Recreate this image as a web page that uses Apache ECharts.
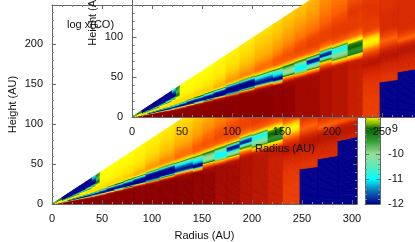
<!DOCTYPE html>
<html><head><meta charset="utf-8">
<style>html,body{margin:0;padding:0;background:#fff}#c{width:415px;height:242px}</style>
<script src="https://cdn.jsdelivr.net/npm/echarts@6/dist/echarts.min.js"></script>
</head><body><div id="c"></div>
<script>
const radiusTicks=[0,50,100,150,200,250,300];
const radiusTicksInset=[0,50,100,150,200,250];
const heightTicksMain=[0,50,100,150,200];
const heightTicksInset=[0,50,100];
const heightMinorInset=[10,20,30,40,60,70,80,90,110,120,130,140];
const colorTicks=[-12,-11,-10,-9,-8,-7,-6,-5,-4];
const radiusEdges=[0,5,10,16,22,28,34,40,44,48,55,63,72,82,94,108,123,141,151,163,175,188,200,216,231,248,266,286,305];
const slopeLevels=[0,.10,.17,.20,.23,.26,.28,.30,.32,.34,.36,.38,.40,.42,.44,.46,.50,.55,.60,.70,.82];
const logAbundance=[
[-4,-4,-4,-4.2,-5.5,-7,-8,-8.3,-8.4,-8.4,-8.4,-8.4,-8.4,-8.4,-8.4,-8.4,-8.5,-8.8,-9.2,-9.6,-9.8],
[-4,-4,-4,-4.2,-5.5,-7.5,-8,-8.2,-8.3,-8.3,-8.3,-8.3,-8.3,-8.3,-8.3,-8.3,-8.4,-8.5,-8.7,-9.1,-9.5],
[-4,-4,-4,-4.3,-6,-10,-11.5,-10,-8.6,-8.2,-8.1,-8.1,-8.1,-8.2,-8.3,-8.5,-9.5,-12,-12,-12,-12],
[-4,-4,-4,-4.2,-5,-11,-12,-12,-11,-9.5,-8.5,-8.1,-8,-8,-8.1,-8.3,-10.5,-12,-12,-12,-12],
[-4,-4,-4,-4.2,-5,-11,-12,-12,-11.2,-9.6,-8.6,-8.1,-8,-8,-8.1,-8.3,-9.5,-12,-12,-12,-12],
[-4,-4,-4,-4.1,-4.8,-11,-12,-12,-11.4,-9.8,-8.7,-8.1,-8,-8,-8.1,-8.2,-8.8,-11.5,-12,-12,-12],
[-4,-4,-4,-4.1,-4.6,-11,-12,-12,-11.6,-10,-8.8,-8.2,-8,-8,-8,-8.1,-8.4,-10.5,-12,-12,-12],
[-4,-4,-4,-4.1,-4.5,-10,-12,-12,-11.8,-10.3,-9,-8.3,-8,-8,-8,-8.1,-8.3,-9,-12,-12,-11],
[-4,-4,-4,-4,-4.5,-9,-12,-12,-11.9,-10.6,-9.2,-8.3,-8,-7.9,-7.9,-8,-8.2,-8.5,-9,-9.7,-9.3],
[-4,-4,-4,-4,-4.4,-8,-12,-12,-12,-11.3,-10.3,-9,-8.2,-8,-7.9,-8,-8.2,-8.3,-8.4,-8.5,-8.5],
[-4,-4,-4,-4,-4.1,-5.5,-11.5,-12,-12,-12,-11,-9.4,-8.3,-8,-7.8,-7.9,-8.1,-8.3,-8.4,-8.5,-8.5],
[-4,-4,-4,-4,-4,-4.8,-10,-12,-12,-12,-11.2,-9.7,-8.4,-7.9,-7.7,-7.8,-8,-8.2,-8.3,-8.4,-8.5],
[-4,-4,-4,-4,-4,-4.5,-8,-12,-12,-12,-11.6,-10.5,-9.2,-8.2,-7.6,-7.7,-7.9,-8.1,-8.2,-8.4,-8.5],
[-4,-4,-4,-4,-4,-4.3,-6,-12,-12,-12,-12,-11.2,-9.6,-8.1,-7.3,-7.3,-7.6,-7.9,-8.1,-8.3,-8.4],
[-4,-4,-4,-4,-4,-4.2,-5.5,-11,-12,-12,-12,-12,-11.2,-9,-7.6,-6.8,-7.1,-7.5,-7.8,-8.1,-8.3],
[-4,-4,-4,-4,-4,-4.1,-4.8,-8.5,-12,-12,-12,-12,-11.3,-9.2,-7.6,-6.6,-6.7,-7.2,-7.5,-7.9,-8.2],
[-4,-4,-4,-4,-4,-4.1,-4.4,-6,-11.5,-12,-11.7,-11.2,-10.6,-9,-7.3,-6.2,-6.2,-6.8,-7.2,-7.6,-8],
[-4.1,-4.1,-4.1,-4.1,-4.1,-4.1,-4.2,-8,-12,-12,-11.2,-11,-10.3,-8.6,-6.9,-5.9,-5.8,-6.4,-6.9,-7.4,-7.9],
[-4.1,-4.1,-4.1,-4.1,-4.1,-4.2,-4.3,-5,-6.5,-9.5,-10.2,-10,-9.8,-9,-7,-5.9,-5.7,-6,-6.6,-7.2,-7.7],
[-4.3,-4.3,-4.3,-4.3,-4.3,-4.3,-4.3,-4.8,-7,-10.5,-11,-11,-10.3,-9.2,-7.2,-5.9,-5.5,-5.7,-6.3,-7,-7.6],
[-4.3,-4.3,-4.3,-4.3,-4.3,-4.3,-4.4,-4.6,-6.5,-9.8,-10.1,-11.8,-12,-9.3,-7,-5.8,-5.4,-5.5,-6.1,-6.8,-7.4],
[-4.5,-4.5,-4.5,-4.5,-4.5,-4.5,-4.5,-4.5,-4.9,-6,-8.5,-10,-12,-11.5,-8.3,-6.3,-5.4,-5.4,-5.8,-6.4,-7],
[-4.6,-4.6,-4.6,-4.6,-4.6,-4.6,-4.6,-4.6,-4.8,-7.5,-9.8,-10,-10.9,-10.8,-8.2,-5.9,-5.3,-5.3,-5.6,-6.2,-6.9],
[-4.8,-4.8,-4.8,-4.8,-4.8,-4.8,-4.7,-4.7,-4.9,-7.5,-9.3,-9.4,-9,-8.9,-7.8,-6,-5.3,-5.3,-5.2,-5.8,-6.6],
[-5.3,-5.3,-5.2,-5.1,-5,-4.8,-4.6,-4.7,-5,-5.5,-6.5,-8,-8.4,-7.8,-6,-5.4,-5.3,-5.2,-5.2,-5.3,-5.6],
[-5.2,-5.2,-5.2,-5.2,-5,-4.9,-4.7,-4.6,-4.7,-5,-5.5,-6,-5.5,-5.2,-5,-5,-5,-5.1,-5.1,-5.1,-5],
[-5.2,-5.2,-5.2,-5.2,-5,-4.9,-4.8,-4.6,-4.6,-5,-6,-5.4,-5.1,-5,-5,-5,-5,-5,-5,-5,-5],
[-5.2,-5.2,-5.2,-5.2,-5.1,-5,-4.9,-4.7,-4.6,-4.8,-5.8,-5.3,-5.1,-5,-5,-5,-5,-5,-5,-5,-5]
];
const depletedBelow={25:.176,26:.212,27:.276};
const paletteValues=[-12,-11.5,-11,-10.5,-10,-9.5,-9,-8.8,-8.5,-8,-7.5,-7,-6,-5.3,-5,-4.5,-4];
const paletteColors=['#00008b','#0a6cb4','#00ffff','#5fe8b8','#96e096','#35a035','#006400','#80b000','#ffff00','#ffe000','#ffc000','#ffa000','#ff6400','#e83c00','#d82800','#b01000','#8b0000'];

function hex(c){return [1,3,5].map(i=>parseInt(c.substr(i,2),16));}
function colorOf(v){
  if(v<=paletteValues[0])return paletteColors[0];
  for(let i=1;i<paletteValues.length;i++){
    if(v<=paletteValues[i]){
      const t=(v-paletteValues[i-1])/(paletteValues[i]-paletteValues[i-1]);
      const a=hex(paletteColors[i-1]),b=hex(paletteColors[i]);
      return 'rgb('+a.map((x,k)=>Math.round(x+(b[k]-x)*t)).join(',')+')';
    }
  }
  return paletteColors[paletteColors.length-1];
}
const cells=[];
logAbundance.forEach((row,c)=>{
  const r0=radiusEdges[c],r1=radiusEdges[c+1],f=depletedBelow[c]||0;
  if(f)cells.push([r0,r1,0,f,-12,-12]);
  for(let l=0;l<row.length-1;l++){
    let q0=slopeLevels[l],q1=slopeLevels[l+1],v0=row[l],v1=row[l+1];
    if(q1<=f)continue;
    if(q0<f){v0=v0+(v1-v0)*(f-q0)/(q1-q0);q0=f;}
    cells.push([r0,r1,q0,q1,v0,v1]);
  }
});
function renderCell(params,api){
  const r0=api.value(0),r1=api.value(1),q0=api.value(2),q1=api.value(3),v0=api.value(4),v1=api.value(5);
  const px=Math.abs(api.coord([r1,0])[1]-api.coord([r1,(q1-q0)*r1])[1]);
  const n=Math.max(1,Math.min(40,Math.ceil(px/1.2)));
  const children=[];
  for(let i=0;i<n;i++){
    const a=q0+(q1-q0)*i/n,b=q0+(q1-q0)*(i+1)/n;
    const col=colorOf(v0+(v1-v0)*(i+.5)/n);
    children.push({type:'polygon',shape:{points:[api.coord([r0,a*r0]),api.coord([r1,a*r1]),api.coord([r1,b*r1]),api.coord([r0,b*r0])]},
      style:{fill:col,stroke:col,lineWidth:.8},silent:true});
  }
  return {type:'group',children};
}
function renderBar(params,api){
  const a=api.coord([0,-12]),b=api.coord([1,-4]);
  const span=paletteValues[paletteValues.length-1]-paletteValues[0];
  return {type:'rect',shape:{x:a[0],y:b[1],width:b[0]-a[0],height:a[1]-b[1]},
    style:{fill:new echarts.graphic.LinearGradient(0,1,0,0,paletteValues.map((v,i)=>({offset:(v-paletteValues[0])/span,color:paletteColors[i]})))},silent:true};
}
const INK='#111',AX='#666',AXM='#888';
function renderInsetRuler(params,api){
  const base=api.coord([0,0]),top=api.coord([0,146.25]);
  const x=Math.round(base[0])+.5;
  const kids=[{type:'line',shape:{x1:x,y1:base[1],x2:x,y2:top[1]},style:{stroke:AX,lineWidth:1},silent:true}];
  heightTicksInset.forEach(v=>{const y=Math.round(api.coord([0,v])[1])+.5;
    kids.push({type:'line',shape:{x1:x,y1:y,x2:x+4,y2:y},style:{stroke:AX,lineWidth:1},silent:true});});
  heightMinorInset.forEach(v=>{const y=Math.round(api.coord([0,v])[1])+.5;
    kids.push({type:'line',shape:{x1:x,y1:y,x2:x+2,y2:y},style:{stroke:AXM,lineWidth:1},silent:true});});
  return {type:'group',children:kids};
}
const font={fontFamily:'Liberation Sans',fontSize:11,color:INK};
function axisBase(grid,z,ticks,min,max,opts){
  return Object.assign({gridIndex:grid,type:'value',min:min,max:max,interval:50,z:z,
    axisLine:{show:true,onZero:false,lineStyle:{color:AX,width:1}},
    axisTick:{show:true,inside:true,length:4,lineStyle:{color:AX},customValues:ticks},
    minorTick:{show:true,splitNumber:5,length:2,lineStyle:{color:AXM}},
    splitLine:{show:false},minorSplitLine:{show:false}},opts);
}
const noLabel={axisLabel:{show:false}};
const axisNameOpts={nameLocation:'middle',nameMoveOverlap:false,nameTextStyle:font};
const option={
  animation:false,backgroundColor:'#fff',
  grid:[
    {left:52,top:5,width:305,height:199,outerBoundsMode:'none'},
    {left:132,top:0,width:283,height:117,outerBoundsMode:'none'},
    {left:365,top:4,width:15,height:200,outerBoundsMode:'none'}
  ],
  xAxis:[
    axisBase(0,3,radiusTicks,0,305,Object.assign({position:'bottom',name:'Radius (AU)',nameGap:26,
      axisLabel:Object.assign({margin:9,customValues:radiusTicks},font)},axisNameOpts)),
    axisBase(0,3,radiusTicks,0,305,Object.assign({position:'top'},noLabel)),
    axisBase(1,7,radiusTicksInset,0,283,{position:'bottom',
      axisLabel:Object.assign({margin:9,customValues:radiusTicksInset},font)}),
    {gridIndex:2,type:'value',min:0,max:1,z:5,axisLine:{show:true,lineStyle:{color:AX}},axisTick:{show:false},axisLabel:{show:false},splitLine:{show:false}},
    {gridIndex:2,type:'value',min:0,max:1,z:5,position:'top',axisLine:{show:true,lineStyle:{color:AX}},axisTick:{show:false},axisLabel:{show:false},splitLine:{show:false}}
  ],
  yAxis:[
    axisBase(0,3,heightTicksMain,0,248.75,Object.assign({position:'left',name:'Height (AU)',nameGap:34,
      axisLabel:Object.assign({margin:9,customValues:heightTicksMain},font)},axisNameOpts)),
    axisBase(0,3,heightTicksMain,0,248.75,Object.assign({position:'right'},noLabel)),
    {gridIndex:1,type:'value',min:0,max:146.25,interval:50,z:7,position:'left',
      axisLine:{show:false,onZero:false},axisTick:{show:false},minorTick:{show:false},splitLine:{show:false},
      axisLabel:Object.assign({margin:9,customValues:heightTicksInset},font)},
    {gridIndex:2,type:'value',min:-12,max:-4,interval:1,z:5,position:'left',
      axisLine:{show:true,onZero:false,lineStyle:{color:AX}},axisTick:{show:true,inside:true,length:4,lineStyle:{color:AX}},
      minorTick:{show:true,splitNumber:5,length:2,lineStyle:{color:AXM}},axisLabel:{show:false},splitLine:{show:false}},
    {gridIndex:2,type:'value',min:-12,max:-4,interval:1,z:5,position:'right',
      axisLine:{show:true,onZero:false,lineStyle:{color:AX}},axisTick:{show:true,inside:true,length:4,lineStyle:{color:AX}},
      minorTick:{show:true,splitNumber:5,length:2,lineStyle:{color:AXM}},
      axisLabel:Object.assign({margin:8,customValues:colorTicks,align:'left'},font),splitLine:{show:false}}
  ],
  series:[
    {type:'custom',xAxisIndex:0,yAxisIndex:0,z:1,clip:true,data:cells,renderItem:renderCell,silent:true},
    {type:'custom',xAxisIndex:3,yAxisIndex:3,z:4,data:[[0,1]],renderItem:renderBar,silent:true},
    {type:'custom',xAxisIndex:2,yAxisIndex:2,z:6,clip:false,data:cells,renderItem:renderCell,silent:true},
    {type:'custom',xAxisIndex:2,yAxisIndex:2,z:8,clip:false,data:[[0,0]],renderItem:renderInsetRuler,silent:true}
  ],
  graphic:[
    {type:'text',left:67,top:19,z:20,style:{text:'log x(CO)',fill:INK,font:'11px "Liberation Sans"'}},
    {type:'text',x:285,y:149,z:20,style:{text:'Radius (AU)',align:'center',verticalAlign:'middle',fill:INK,font:'11px "Liberation Sans"'}},
    {type:'text',x:93,y:17,rotation:Math.PI/2,z:20,style:{text:'Height (AU)',align:'center',verticalAlign:'middle',fill:INK,font:'11px "Liberation Sans"'}}
  ]
};
const chart=echarts.init(document.getElementById('c'),null,{renderer:'canvas',width:415,height:242});
chart.setOption(option);
</script></body></html>
